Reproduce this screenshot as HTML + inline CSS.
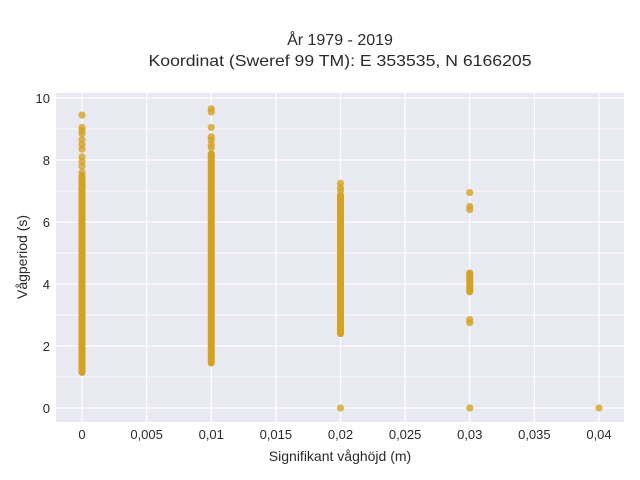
<!DOCTYPE html>
<html><head><meta charset="utf-8"><style>
html,body{margin:0;padding:0;background:#fff;}
svg{display:block;font-family:"Liberation Sans",sans-serif;}
</style></head><body>
<svg id="chart" width="640" height="480">
<text x="340" y="45" text-anchor="middle" font-size="16" fill="#2a2a2a">År 1979 - 2019</text>
<text x="340" y="66" text-anchor="middle" font-size="16" fill="#2a2a2a" textLength="383" lengthAdjust="spacingAndGlyphs">Koordinat (Sweref 99 TM): E 353535, N 6166205</text>
<rect x="56" y="93" width="568" height="329" fill="#e9e9f1"/>
<g id="grid"></g>
<g id="marks"></g>
<g id="ticks"></g>
<text x="340" y="461" text-anchor="middle" font-size="14" fill="#2a2a2a">Signifikant våghöjd (m)</text>
<text transform="translate(27,257) rotate(-90)" text-anchor="middle" font-size="14" fill="#2a2a2a">Vågperiod (s)</text>
</svg>
<script>
const xTicks = [0,0.005,0.01,0.015,0.02,0.025,0.03,0.035,0.04];
const xTickLabels = ["0","0,005","0,01","0,015","0,02","0,025","0,03","0,035","0,04"];
const yTicks = [0,2,4,6,8,10];
const yMinor = [1,3,5,7,9];
const bandX = [0,0.01,0.02,0.03];
const bandMin = [1.15,1.45,2.4,3.75];
const bandMax = [7.5,8.2,6.85,4.35];
const ptX = [0,0,0,0,0,0,0,0,0,0,0, 0.01,0.01,0.01,0.01,0.01,0.01,0.01, 0.02,0.02,0.02,0.02, 0.03,0.03,0.03,0.03,0.03,0.03, 0.04];
const ptY = [7.6,7.8,7.95,8.1,8.35,8.5,8.65,8.85,8.95,9.05,9.45, 8.4,8.5,8.65,8.75,9.05,9.55,9.65, 7.0,7.1,7.25,0, 2.75,2.85,6.4,6.5,6.95,0, 0];

const NS="http://www.w3.org/2000/svg";
const xs = v => 82 + v/0.04*517;
const ys = v => 408 - v*31;
const grid=document.getElementById('grid'), marks=document.getElementById('marks'), ticks=document.getElementById('ticks');
function mk(tag, attrs, parent){const e=document.createElementNS(NS,tag);for(const k in attrs)e.setAttribute(k,attrs[k]);parent.appendChild(e);return e;}
yMinor.forEach(v=>{
  const l=mk('line',{x1:56,x2:624,y1:ys(v),y2:ys(v),stroke:'#fff','stroke-width':0.8},grid);
  
  
});
yTicks.forEach(v=>{
  const l=mk('line',{x1:56,x2:624,y1:ys(v),y2:ys(v),stroke:'#fff','stroke-width':1.2},grid);
  
  
  const t=mk('text',{x:50,y:ys(v)+5,'text-anchor':'end','font-size':13,fill:'#2a2a2a'},ticks);
  t.textContent=String(v);
  
  
});
xTicks.forEach((v,i)=>{
  const l=mk('line',{x1:xs(v),x2:xs(v),y1:93,y2:422,stroke:'#fff','stroke-width':1.2},grid);
  
  
  const t=mk('text',{x:xs(v),y:439,'text-anchor':'middle','font-size':13,fill:'#2a2a2a'},ticks);
  t.textContent=xTickLabels[i];
  
  
});
bandX.forEach((v,i)=>{
  const l=mk('line',{x1:xs(v),x2:xs(v),y1:ys(bandMin[i]),y2:ys(bandMax[i]),stroke:'#d4a220','stroke-width':7,'stroke-linecap':'round'},marks);
  
  
});
ptX.forEach((v,i)=>{
  const c=mk('circle',{cx:xs(v),cy:ys(ptY[i]),r:3.6,fill:'#d4a220','fill-opacity':0.8},marks);
  
  
});
</script>
</body></html>
